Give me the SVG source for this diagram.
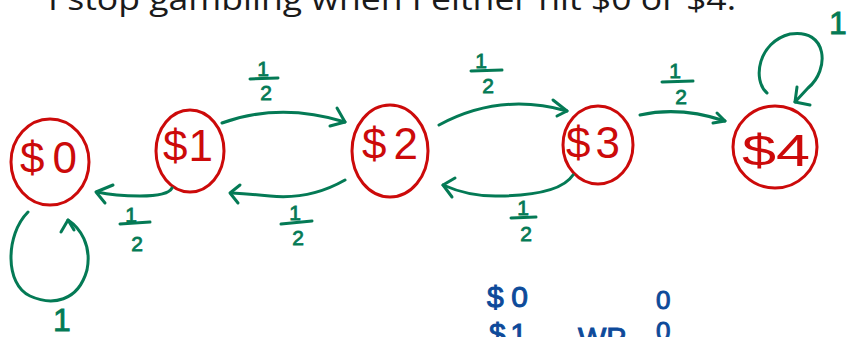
<svg xmlns="http://www.w3.org/2000/svg" width="851" height="337" viewBox="0 0 851 337">
<style>
.title{font-family:"Open Sans","Liberation Sans",sans-serif;font-size:31px;fill:#1a1a1a}
.node ellipse{fill:none;stroke:#cc0a0a;stroke-width:3}
.node text{font-family:"Liberation Sans",sans-serif;font-size:44px;fill:#cc0a0a}
.edge{fill:none;stroke:#047a55;stroke-width:3;stroke-linecap:round;stroke-linejoin:round}
.lbl{font-family:"Liberation Sans",sans-serif;font-size:21px;fill:#047a55;stroke:#047a55;stroke-width:0.8;text-anchor:middle}
.big{font-size:32px}
.bar{stroke:#047a55;stroke-width:3;stroke-linecap:round}
.blue{font-family:"Liberation Sans",sans-serif;font-size:30px;fill:#0d4a9a;stroke:#0d4a9a;stroke-width:1}
.zero{font-size:26px}
</style>
<rect width="851" height="337" fill="#ffffff"/>
<text class="title" x="48" y="10" textLength="688" lengthAdjust="spacingAndGlyphs">I stop gambling when I either hit $0 or $4.</text>

<g id="node-0" class="node">
<ellipse cx="50" cy="162" rx="39" ry="43"/>
<text x="20" y="173" textLength="57" lengthAdjust="spacing">$0</text>
</g>
<g id="node-1" class="node">
<ellipse cx="190" cy="151" rx="34" ry="41"/>
<text x="163" y="161" textLength="50" lengthAdjust="spacing">$1</text>
</g>
<g id="node-2" class="node">
<ellipse cx="390" cy="151" rx="38" ry="46"/>
<text x="362" y="159" textLength="56" lengthAdjust="spacing">$2</text>
</g>
<g id="node-3" class="node">
<ellipse cx="598" cy="145" rx="35" ry="39"/>
<text x="566" y="158" textLength="54" lengthAdjust="spacing">$3</text>
</g>
<g id="node-4" class="node">
<ellipse cx="775" cy="147" rx="42" ry="41"/>
<text x="742" y="166" textLength="68" lengthAdjust="spacingAndGlyphs">$4</text>
</g>

<g id="connectors">
<!-- $1 -> $2 -->
<path class="edge" d="M222,123 Q280,102 345,122"/>
<path class="edge" d="M337,108 L345,122 L330,126"/>
<!-- $2 -> $1 -->
<path class="edge" d="M345,180 Q310,200 270,196 Q248,194 232,193"/>
<path class="edge" d="M240,185 L230,193 L238,203"/>
<!-- $1 -> $0 -->
<path class="edge" d="M172,188 Q168,196 140,196 Q115,196 97,192"/>
<path class="edge" d="M113,185 L96,192 L105,203"/>
<!-- $2 -> $3 -->
<path class="edge" d="M439,125 Q500,92 567,111"/>
<path class="edge" d="M553,100 L567,111 L557,116"/>
<!-- $3 -> $2 -->
<path class="edge" d="M573,175 Q560,195 500,196 Q470,197 443,185"/>
<path class="edge" d="M455,178 L443,185 L452,197"/>
<!-- $3 -> $4 -->
<path class="edge" d="M640,115 Q680,106 725,121"/>
<path class="edge" d="M717,113 L725,121 L713,123"/>
<!-- $4 self loop -->
<path class="edge" d="M767,93 C752,80 758,42 790,34 C828,28 830,70 808,88 L795,102"/>
<path class="edge" d="M797,87 L795,102 L810,105"/>
<!-- $0 self loop -->
<path class="edge" d="M28,212 C5,235 5,285 30,296 C52,306 78,302 87,270 C92,245 80,228 68,220"/>
<path class="edge" d="M61,232 L68,220 L74,230"/>
</g>

<g id="labels">
<text class="lbl" x="263" y="76">1</text>
<line class="bar" x1="250" y1="79" x2="278" y2="78"/>
<text class="lbl" x="266" y="100">2</text>

<text class="lbl" x="481" y="68">1</text>
<line class="bar" x1="471" y1="71" x2="502" y2="70"/>
<text class="lbl" x="488" y="93">2</text>

<text class="lbl" x="675" y="78">1</text>
<line class="bar" x1="662" y1="82" x2="693" y2="81"/>
<text class="lbl" x="681" y="104">2</text>

<text class="lbl" x="131" y="222">1</text>
<line class="bar" x1="120" y1="224" x2="150" y2="222"/>
<text class="lbl" x="137" y="251">2</text>

<text class="lbl" x="295" y="220">1</text>
<line class="bar" x1="281" y1="224" x2="312" y2="221"/>
<text class="lbl" x="298" y="245">2</text>

<text class="lbl" x="523" y="215">1</text>
<line class="bar" x1="511" y1="218" x2="536" y2="217"/>
<text class="lbl" x="526" y="241">2</text>

<text class="lbl big" x="838" y="34">1</text>
<text class="lbl big" x="62" y="331">1</text>
</g>

<g id="notes">
<text class="blue" x="487" y="307" textLength="41" lengthAdjust="spacing">$0</text>
<text class="blue" x="489" y="344" textLength="38" lengthAdjust="spacing">$1</text>
<text class="blue" x="578" y="348">WP</text>
<text class="blue zero" x="656" y="309">0</text>
<text class="blue zero" x="656" y="340">0</text>
</g>
</svg>
